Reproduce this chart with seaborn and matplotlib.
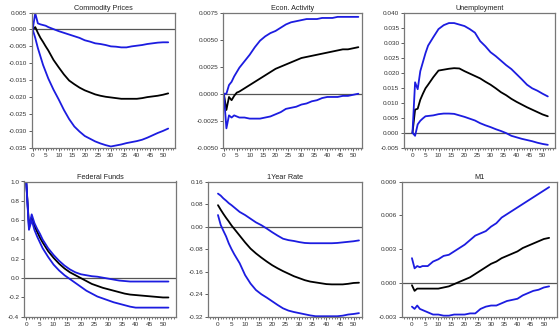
import numpy as np
import pandas as pd
import seaborn as sns
import matplotlib.pyplot as plt
from matplotlib.ticker import MultipleLocator, FormatStrFormatter

# horizons (months after the shock)
horizon = [0, 1, 2, 3, 4, 5, 6, 8, 10, 12, 14, 16, 18, 20, 22, 24, 26, 28,
           30, 32, 34, 36, 38, 40, 42, 44, 46, 48, 50, 52]

titles = ['Commodity Prices', 'Econ. Activity', 'Unemployment',
          'Federal Funds', '1Year Rate', 'M1']

# Commodity Prices
cp_irf = [0, 0.0007, -0.0010, -0.0025, -0.0037, -0.0050, -0.0062, -0.0090, -0.0112, -0.0133,
          -0.0151, -0.0162, -0.0172, -0.0180, -0.0186, -0.0192, -0.0196, -0.0199, -0.0201, -0.0203,
          -0.0205, -0.0205, -0.0205, -0.0205, -0.0203, -0.0200, -0.0198, -0.0196, -0.0193, -0.0189]
cp_up = [0, 0.0048, 0.0018, 0.0015, 0.0013, 0.0011, 0.0007, 0.0001, -0.0005, -0.0010,
         -0.0015, -0.0020, -0.0025, -0.0032, -0.0036, -0.0041, -0.0043, -0.0046, -0.0050, -0.0051,
         -0.0053, -0.0053, -0.0050, -0.0048, -0.0046, -0.0043, -0.0041, -0.0039, -0.0038, -0.0038]
cp_lo = [0, -0.0025, -0.0055, -0.0080, -0.0105, -0.0125, -0.0145, -0.0178, -0.0207, -0.0238,
         -0.0265, -0.0287, -0.0302, -0.0315, -0.0323, -0.0331, -0.0337, -0.0342, -0.0346, -0.0343,
         -0.0340, -0.0336, -0.0333, -0.0330, -0.0326, -0.0320, -0.0313, -0.0306, -0.0300, -0.0293]

# Econ. Activity
ea_irf = [0, -0.0015, -0.0003, -0.0006, -0.0002, 0.0001, 0.0002, 0.0005, 0.0008, 0.0011,
          0.0014, 0.0017, 0.0020, 0.0023, 0.0025, 0.0027, 0.0029, 0.0031, 0.0033, 0.0034,
          0.0035, 0.0036, 0.0037, 0.0038, 0.0039, 0.0040, 0.0041, 0.0041, 0.0042, 0.0043]
ea_up = [0, 0.0000, 0.0008, 0.0011, 0.0016, 0.0020, 0.0024, 0.0030, 0.0036, 0.0043,
         0.0049, 0.0053, 0.0056, 0.0058, 0.0061, 0.0064, 0.0066, 0.0067, 0.0068, 0.0069,
         0.0069, 0.0069, 0.0070, 0.0070, 0.0070, 0.0071, 0.0071, 0.0071, 0.0071, 0.0071]
ea_lo = [0, -0.0032, -0.0020, -0.0022, -0.0020, -0.0021, -0.0022, -0.0022, -0.0023, -0.0023,
         -0.0023, -0.0022, -0.0021, -0.0019, -0.0017, -0.0014, -0.0013, -0.0012, -0.0010, -0.0009,
         -0.0007, -0.0006, -0.0004, -0.0003, -0.0003, -0.0003, -0.0002, -0.0002, -0.0001, 0.0000]

# Unemployment
un_irf = [0, 0.0077, 0.0080, 0.0110, 0.0130, 0.0148, 0.0160, 0.0185, 0.0207, 0.0210,
          0.0213, 0.0215, 0.0214, 0.0205, 0.0197, 0.0189, 0.0181, 0.0170, 0.0160, 0.0148,
          0.0135, 0.0125, 0.0113, 0.0103, 0.0094, 0.0085, 0.0077, 0.0069, 0.0061, 0.0055]
un_up = [0, 0.0168, 0.0145, 0.0205, 0.0235, 0.0265, 0.0290, 0.0318, 0.0345, 0.0358,
         0.0365, 0.0365, 0.0360, 0.0355, 0.0345, 0.0333, 0.0305, 0.0288, 0.0268, 0.0255,
         0.0240, 0.0225, 0.0212, 0.0195, 0.0178, 0.0160, 0.0148, 0.0140, 0.0130, 0.0121]
un_lo = [0, -0.0010, 0.0028, 0.0040, 0.0048, 0.0055, 0.0056, 0.0058, 0.0062, 0.0064,
         0.0064, 0.0063, 0.0058, 0.0053, 0.0047, 0.0041, 0.0032, 0.0025, 0.0019, 0.0012,
         0.0006, -0.0001, -0.0010, -0.0015, -0.0020, -0.0024, -0.0028, -0.0033, -0.0037, -0.0040]

# Federal Funds
ff_irf = [1.0, 0.55, 0.63, 0.54, 0.48, 0.42, 0.37, 0.28, 0.21, 0.15,
          0.10, 0.06, 0.03, 0.00, -0.03, -0.06, -0.08, -0.10, -0.115, -0.13,
          -0.145, -0.16, -0.17, -0.175, -0.18, -0.185, -0.19, -0.195, -0.20, -0.20]
ff_up = [1.0, 0.52, 0.66, 0.57, 0.51, 0.46, 0.40, 0.31, 0.24, 0.18,
         0.13, 0.09, 0.06, 0.04, 0.03, 0.02, 0.015, 0.005, -0.005, -0.015,
         -0.025, -0.03, -0.035, -0.035, -0.035, -0.035, -0.035, -0.035, -0.035, -0.035]
ff_lo = [1.0, 0.50, 0.60, 0.50, 0.43, 0.37, 0.31, 0.22, 0.14, 0.08,
         0.03, -0.01, -0.05, -0.09, -0.13, -0.16, -0.19, -0.21, -0.23, -0.25,
         -0.265, -0.28, -0.295, -0.305, -0.305, -0.305, -0.305, -0.305, -0.305, -0.305]

# 1Year Rate
yr_irf = [0.076, 0.060, 0.045, 0.031, 0.018, 0.004, -0.008, -0.032, -0.056, -0.078,
          -0.095, -0.110, -0.124, -0.137, -0.148, -0.158, -0.167, -0.176, -0.183, -0.190,
          -0.195, -0.198, -0.201, -0.204, -0.205, -0.205, -0.205, -0.203, -0.200, -0.199]
yr_up = [0.117, 0.110, 0.100, 0.092, 0.083, 0.076, 0.068, 0.052, 0.041, 0.028,
         0.015, 0.005, -0.007, -0.020, -0.032, -0.043, -0.048, -0.051, -0.055, -0.058,
         -0.059, -0.059, -0.059, -0.059, -0.059, -0.058, -0.056, -0.054, -0.052, -0.049]
yr_lo = [0.041, 0.006, -0.015, -0.035, -0.060, -0.080, -0.098, -0.130, -0.172, -0.202,
         -0.225, -0.240, -0.252, -0.265, -0.278, -0.290, -0.298, -0.303, -0.307, -0.311,
         -0.315, -0.318, -0.318, -0.318, -0.318, -0.318, -0.316, -0.312, -0.310, -0.307]

# M1
m1_irf = [-0.0002, -0.0007, -0.0005, -0.0005, -0.0005, -0.0005, -0.0005, -0.0005, -0.0005, -0.0004,
          -0.0003, -0.0001, 0.0001, 0.0003, 0.0005, 0.0008, 0.0011, 0.0014, 0.0017, 0.0019,
          0.0022, 0.0024, 0.0026, 0.0028, 0.0031, 0.0033, 0.0035, 0.0037, 0.0039, 0.0040]
m1_up = [0.0022, 0.0013, 0.0015, 0.0014, 0.0015, 0.0015, 0.0015, 0.0019, 0.0021, 0.0024,
         0.0025, 0.0028, 0.0031, 0.0034, 0.0038, 0.0042, 0.0044, 0.0046, 0.0050, 0.0053,
         0.0058, 0.0061, 0.0064, 0.0067, 0.0070, 0.0073, 0.0076, 0.0079, 0.0082, 0.0085]
m1_lo = [-0.0021, -0.0023, -0.0020, -0.0023, -0.0024, -0.0025, -0.0026, -0.0028, -0.0028, -0.0029,
         -0.0029, -0.0028, -0.0028, -0.0028, -0.0027, -0.0027, -0.0023, -0.0021, -0.0020, -0.0020,
         -0.0018, -0.0016, -0.0015, -0.0014, -0.0011, -0.0009, -0.0007, -0.0006, -0.0004, -0.0003]

series = [(cp_irf, cp_up, cp_lo), (ea_irf, ea_up, ea_lo), (un_irf, un_up, un_lo),
          (ff_irf, ff_up, ff_lo), (yr_irf, yr_up, yr_lo), (m1_irf, m1_up, m1_lo)]

# axis settings: ylim, y step, y format, xlim
ylims = [(-0.035, 0.005), (-0.005, 0.0075), (-0.005, 0.040),
         (-0.4, 1.0), (-0.32, 0.16), (-0.003, 0.009)]
ysteps = [0.005, 0.0025, 0.005, 0.2, 0.08, 0.003]
yfmts = ['%.3f', '%.4f', '%.3f', '%.1f', '%.2f', '%.3f']
xlims = [(-0.3, 54.6), (-0.3, 53.5), (-3.2, 54.8), (-0.8, 54.8), (-3.7, 53), (-3.8, 54.9)]

# panel boxes in figure fraction
boxes = [[0.057, 0.552, 0.256, 0.41], [0.399, 0.552, 0.249, 0.41], [0.723, 0.552, 0.270, 0.41],
         [0.043, 0.040, 0.272, 0.41], [0.372, 0.040, 0.275, 0.41], [0.719, 0.040, 0.277, 0.41]]

sns.set_style('white')
plt.rcParams['font.family'] = ['Liberation Sans', 'DejaVu Sans']

fig = plt.figure(figsize=(5.59, 3.30), dpi=100)
blue = '#1c1ce0'
pal = {'irf': 'black', 'upper': blue, 'lower': blue}

for i in range(6):
    ax = fig.add_axes(boxes[i])
    irf, up, lo = series[i]
    df = pd.DataFrame({'h': horizon * 3,
                       'value': irf + up + lo,
                       'band': ['irf'] * len(horizon) + ['upper'] * len(horizon) + ['lower'] * len(horizon)})
    ax.axhline(0, color='#555555', lw=0.9, zorder=1)
    sns.lineplot(data=df, x='h', y='value', hue='band', palette=pal,
                 hue_order=['irf', 'upper', 'lower'], legend=False, lw=1.3, ax=ax)
    ax.set_xlim(*xlims[i])
    ax.set_ylim(*ylims[i])
    ax.yaxis.set_major_locator(MultipleLocator(ysteps[i]))
    ax.yaxis.set_major_formatter(FormatStrFormatter(yfmts[i]))
    ax.xaxis.set_major_locator(MultipleLocator(5))
    ax.xaxis.set_minor_locator(MultipleLocator(1))
    ax.tick_params(axis='both', which='major', labelsize=4.6, length=2.2, width=0.6,
                   color='#444444', labelcolor='#333333', pad=1.2, direction='out')
    ax.tick_params(axis='x', which='minor', length=1.4, width=0.5, color='#444444', direction='out')
    ax.tick_params(bottom=True, left=True, which='both')
    ax.tick_params(axis='y', which='minor', left=False)
    ax.set_xlabel('')
    ax.set_ylabel('')
    ax.set_title(titles[i], fontsize=5.2, pad=2, color='#222222')
    for s in ax.spines.values():
        s.set_color('#777777')
        s.set_linewidth(0.9)

fig.savefig('out.png', dpi=100)
